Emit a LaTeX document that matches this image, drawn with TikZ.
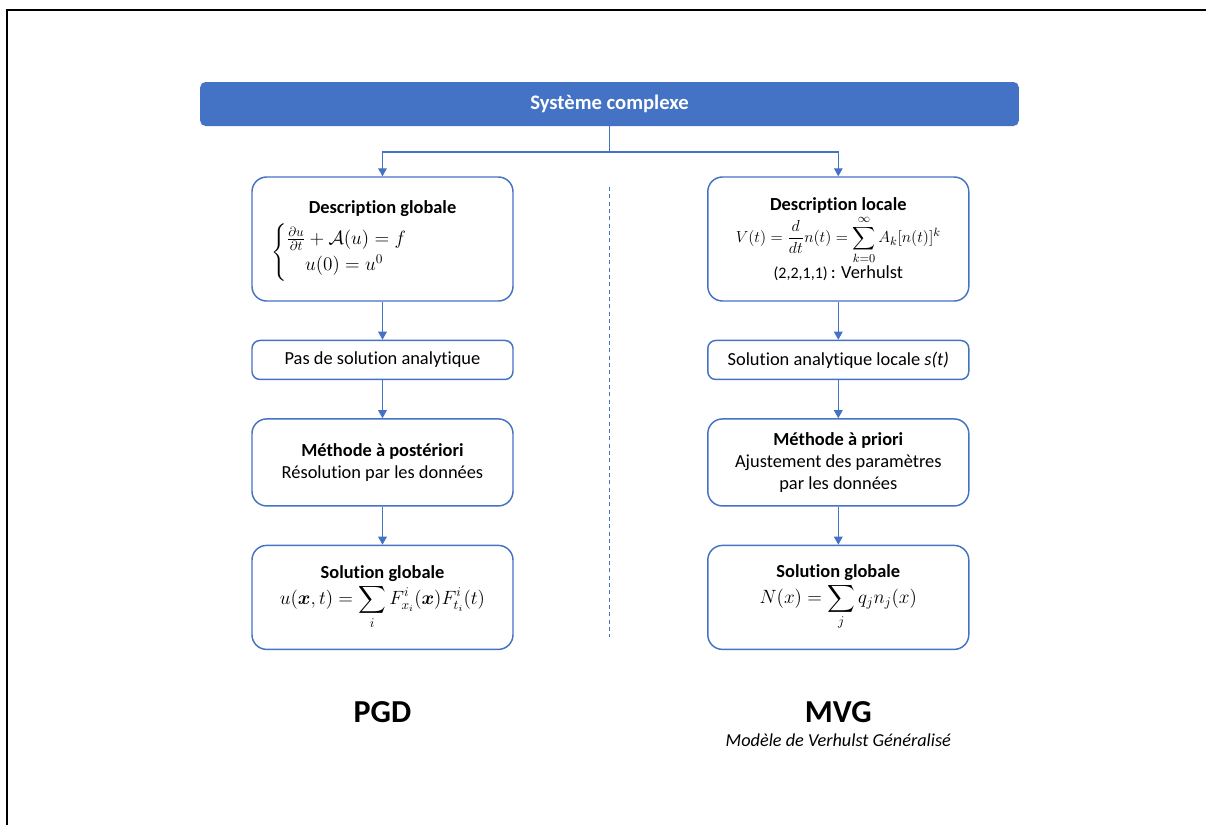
\documentclass[tikz,border=0pt]{standalone}
\usepackage{amsmath}
\usepackage{fontspec}
\setmainfont{Carlito}[Ligatures={NoCommon}]
\usetikzlibrary{positioning,arrows.meta}
\definecolor{bleu}{HTML}{4472C4}
\begin{document}
\begin{tikzpicture}[node distance={28.5pt},
    bar/.style = {fill=bleu, rounded corners=4pt, minimum width=614pt, minimum height=33pt, text=white, font=\fontsize{15.5}{18}\selectfont\bfseries},
    main/.style = {draw=bleu, line width=1.1pt, rounded corners=11pt, minimum width=195.75pt, align=center, font=\fontsize{13.8}{16.5}\selectfont},
    small/.style = {main, rounded corners=6pt, minimum height=29.25pt},
    head/.style = {font=\fontsize{13.8}{16.5}\selectfont\bfseries},
    link/.style = {bleu, line width=0.8pt},
    arrow/.style = {link, -{Triangle[width=6.5pt,length=6pt]}},
    big/.style = {font=\fontsize{24}{28}\selectfont\bfseries}]
    \useasboundingbox (-457.125pt,-540.75pt) rectangle (447.375pt,78pt);
    \draw[line width=1.8pt] (-451.9pt,-540.75pt) -- (-451.9pt,70.5pt) -- (447.375pt,70.5pt);
    \node[bar] (sys) at (0,0) {Système complexe};
    \node[main, minimum height=93pt] (dg) at (-170.25pt,-101.25pt) {};
    \node[head] (dgt) [below=14.5pt of dg.north] {Description globale};
    \node[anchor=west, font=\fontsize{13.8}{16.5}\selectfont] (dgf) at ([xshift=11.5pt,yshift=-57pt]dg.north west)
        {$\begin{cases}\frac{\partial u}{\partial t}+\mathcal{A}(u)=f\\ \quad u(0)=u^0\end{cases}$};
    \node[small] (pas) [below=of dg] {Pas de solution analytique};
    \node[main, minimum height=65.25pt] (mpost) [below=of pas] {\textbf{Méthode à postériori}\\Résolution par les données};
    \node[main, minimum height=78pt] (sg) [below=of mpost] {\textbf{Solution globale}\\[1pt]
        $\displaystyle u(\boldsymbol{x},t)=\sum_i F^i_{x_i}(\boldsymbol{x})F^i_{t_i}(t)$};
    \node[main, minimum height=93pt] (dl) [right=145pt of dg] {\textbf{Description locale}\\[1pt]
        {\fontsize{13}{15}\selectfont$\displaystyle V(t)=\frac{d}{dt}n(t)=\sum_{k=0}^{\infty}A_k[n(t)]^k$}\\[0pt]
        {\fontsize{12}{14}\selectfont (2,2,1,1)}\,: Verhulst};
    \node[small] (sal) [below=of dl] {Solution analytique locale \textit{s(t)}};
    \node[main, minimum height=65.25pt] (mpri) [below=of sal] {\textbf{Méthode à priori}\\Ajustement des paramètres\\par les données};
    \node[main, minimum height=78pt] (sgl) [below=of mpri] {\textbf{Solution globale}\\[1pt]
        $\displaystyle N(x)=\sum_j q_j n_j(x)$};
    \node[big] (pgd) [below=35pt of sg] {PGD};
    \node[big] (mvg) [below=35pt of sgl] {MVG};
    \node[font=\fontsize{13.7}{16}\selectfont\itshape] (mvgt) [below=1pt of mvg] {Modèle de Verhulst Généralisé};
    \coordinate (split) at (0,-36pt);
    \coordinate (dtop) at (0,-62.25pt);
    \coordinate (dbot) at (0,-399.75pt);
    \draw[link] (sys.south) -- (split);
    \draw[arrow] (split) -| (dg.north);
    \draw[arrow] (split) -| (dl.north);
    \draw[arrow] (dg) -- (pas);
    \draw[arrow] (pas) -- (mpost);
    \draw[arrow] (mpost) -- (sg);
    \draw[arrow] (dl) -- (sal);
    \draw[arrow] (sal) -- (mpri);
    \draw[arrow] (mpri) -- (sgl);
    \draw[link, line width=0.6pt, dash pattern=on 3pt off 2.5pt] (dtop) -- (dbot);
\end{tikzpicture}
\end{document}
